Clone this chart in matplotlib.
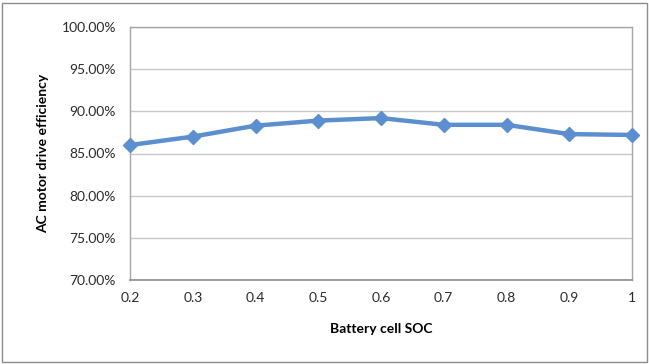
import matplotlib
matplotlib.use("Agg")
import matplotlib.pyplot as plt
from matplotlib.patches import Rectangle
from matplotlib.ticker import FuncFormatter

soc = [0.2, 0.3, 0.4, 0.5, 0.6, 0.7, 0.8, 0.9, 1.0]
efficiency = [86.0, 87.0, 88.3, 88.9, 89.2, 88.4, 88.4, 87.3, 87.2]
x_ticks = [0.2, 0.3, 0.4, 0.5, 0.6, 0.7, 0.8, 0.9, 1.0]
y_ticks = [70, 75, 80, 85, 90, 95, 100]

plt.rcParams['font.family'] = ['Lato', 'DejaVu Sans']

fig = plt.figure(figsize=(6.49, 3.64), dpi=100)
ax = fig.add_axes([130 / 649, 1 - 280 / 364, (632 - 130) / 649, (280 - 27) / 364])

# outer chart frame
fig.patches.append(Rectangle((2 / 649, 2 / 364), 645 / 649, 359 / 364,
                             transform=fig.transFigure, fill=False,
                             edgecolor='#8c8c8c', linewidth=1.0))

ax.plot(soc, efficiency, color='#5b8fcf', linewidth=3.2, marker='D',
        markersize=7.5, markerfacecolor='#5b8fcf', markeredgecolor='#5b8fcf',
        solid_joinstyle='round', solid_capstyle='round', zorder=3, clip_on=False)

ax.set_xlim(0.2, 1.0)
ax.set_ylim(70, 100)
ax.set_xticks(x_ticks)
ax.set_xticklabels(['0.2', '0.3', '0.4', '0.5', '0.6', '0.7', '0.8', '0.9', '1'])
ax.set_yticks(y_ticks)
ax.yaxis.set_major_formatter(FuncFormatter(lambda v, p: f"{v:.2f}%"))

ax.grid(axis='y', color='#c8c8c8', linewidth=1.0)
ax.set_axisbelow(True)
for side in ['top', 'right', 'left']:
    ax.spines[side].set_color('#a6a6a6')
    ax.spines[side].set_linewidth(1.0)
ax.spines['bottom'].set_color('#8c8c8c')
ax.spines['bottom'].set_linewidth(1.2)

ax.tick_params(axis='both', length=0, labelsize=10, colors='#2a2a2a')
ax.tick_params(axis='x', pad=9)
ax.tick_params(axis='y', pad=10)

ax.set_xlabel('Battery cell SOC', fontsize=10, fontweight='bold', labelpad=13)
ax.set_ylabel('AC motor drive efficiency', fontsize=10, fontweight='bold', labelpad=9)

fig.savefig('out.png', dpi=100)
